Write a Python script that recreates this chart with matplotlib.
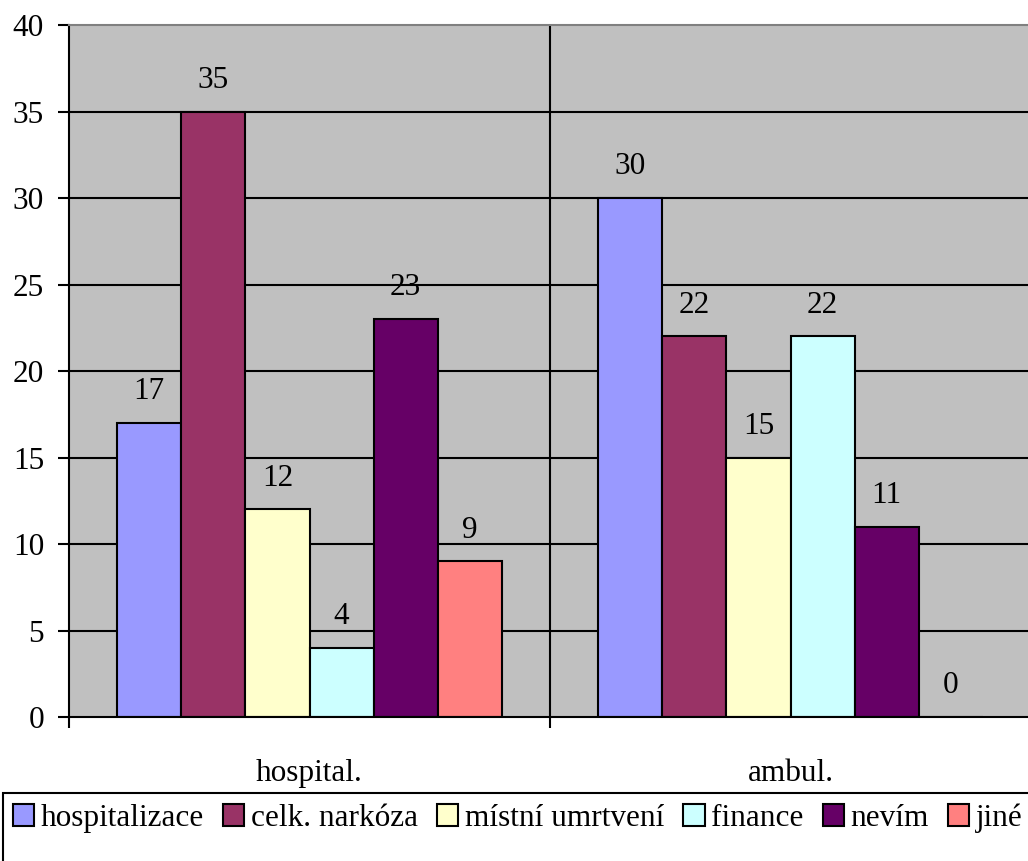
import matplotlib
matplotlib.use("Agg")
import matplotlib.pyplot as plt
from matplotlib.patches import Rectangle
import numpy as np

# Data
categories = ["hospital.", "ambul."]
series_names = ["hospitalizace", "celk. narkóza", "místní umrtvení", "finance", "nevím", "jiné"]
hospitalizace = [17, 30]
celk_narkoza = [35, 22]
mistni_umrtveni = [12, 15]
finance = [4, 22]
nevim = [23, 11]
jine = [9, 0]
series_values = [hospitalizace, celk_narkoza, mistni_umrtveni, finance, nevim, jine]
colors = ["#9999FF", "#993366", "#FFFFCC", "#CCFFFF", "#660066", "#FF8080"]
y_ticks = [0, 5, 10, 15, 20, 25, 30, 35, 40]

plt.rcParams["font.family"] = ["Liberation Serif", "DejaVu Serif"]
FS = 22.5

W, H = 1028, 861
fig = plt.figure(figsize=(W / 100, H / 100), dpi=100)
fig.patch.set_facecolor("white")

left, right, top, bottom = 69, 1031, 25, 717
ax = fig.add_axes([left / W, 1 - bottom / H, (right - left) / W, (bottom - top) / H])
ax.set_facecolor("#C0C0C0")

n = len(series_names)
gap = 0.2
bar_w = (1 - gap) / n
centers = np.arange(len(categories)) + 0.5

# gridlines
for yv in y_ticks[1:-1]:
    ax.axhline(yv, color="black", lw=1.5, zorder=1)
ax.axvline(1.0, color="black", lw=1.5, zorder=1)

for i, (name, vals, c) in enumerate(zip(series_names, series_values, colors)):
    xs = centers - 0.5 + gap / 2 + bar_w * (i + 0.5)
    ax.bar(xs, vals, width=bar_w, color=c, edgecolor="black", linewidth=1.5,
           label=name, zorder=2)
    for x, v in zip(xs, vals):
        ax.annotate(f"{v}", (x, v), xytext=(0, 12), textcoords="offset points",
                    ha="center", va="bottom", fontsize=FS, zorder=3)

ax.set_xlim(0, 2)
ax.set_ylim(0, 40)
ax.set_yticks(y_ticks)
ax.set_yticklabels([str(t) for t in y_ticks])
ax.tick_params(axis="y", direction="out", length=8, width=1.5, pad=10, labelsize=FS)

ax.set_xticks(centers)
ax.set_xticklabels(categories)
ax.set_xticks([0, 1, 2], minor=True)
ax.tick_params(axis="x", which="major", length=0, pad=30, labelsize=FS)
ax.tick_params(axis="x", which="minor", direction="out", length=8, width=1.5)

for s in ["left", "bottom"]:
    ax.spines[s].set_color("black")
    ax.spines[s].set_linewidth(1.5)
ax.spines["top"].set_color("#808080")
ax.spines["top"].set_linewidth(1.5)
ax.spines["right"].set_visible(False)
for s in ax.spines.values():
    s.set_zorder(4)

# legend frame (runs past the lower and right edges) and entries
fig.patches.append(Rectangle((3 / W, -0.05), (W + 10) / W, (H - 793) / H + 0.05,
                             transform=fig.transFigure, fill=False,
                             edgecolor="black", linewidth=1.5))
handles, labels = ax.get_legend_handles_labels()
leg = fig.legend(handles, labels, loc="center left", bbox_to_anchor=(13 / W, 1 - 818 / H),
                 ncol=6, frameon=False, fontsize=FS, handlelength=0.68,
                 handleheight=0.68, handletextpad=0.22, columnspacing=0.6,
                 borderpad=0, borderaxespad=0)

fig.savefig("out.png", dpi=100)
